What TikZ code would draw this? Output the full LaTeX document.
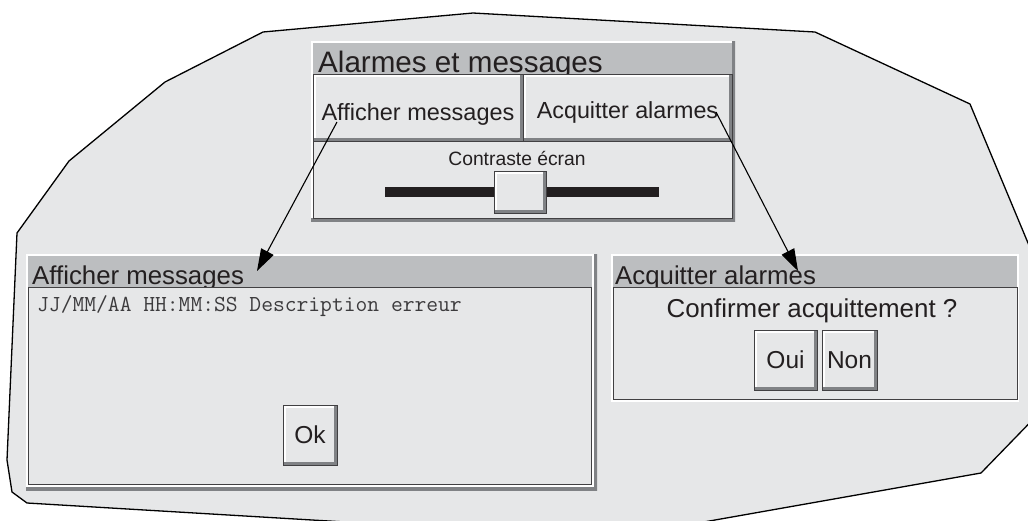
\documentclass[tikz,border=0pt]{standalone}
\usepackage{fontspec}
\setmainfont{Liberation Sans}
\usepackage{tikz}
\usetikzlibrary{
    arrows.meta,
    positioning,
    calc
}
\definecolor{uibg}{HTML}{E6E7E8}
\definecolor{uititle}{HTML}{BCBEC0}
\definecolor{uiline}{HTML}{414042}
\definecolor{uishade}{HTML}{808285}
\definecolor{uitext}{HTML}{231F20}
\definecolor{uimono}{HTML}{3C3B3D}
\tikzset{
    % Screen outline behind the windows
    screenarea/.style={
        fill=uibg,
        draw=black,
        line width=1.3pt,
        line join=round
    },
    % White window frame
    uiframe/.style={
        rectangle,
        anchor=north west,
        fill=white,
        inner sep=0pt,
        outer sep=0pt
    },
    % Drop shadow on bottom and right edge
    uishadow/.style={
        path picture={
            \draw[uishade, line width=7pt]
                (path picture bounding box.south west) --
                (path picture bounding box.south east) --
                (path picture bounding box.north east);
        }
    },
    % Grey title bar
    uititlebar/.style={
        rectangle,
        anchor=north west,
        fill=uititle,
        inner sep=0pt,
        outer sep=0pt
    },
    % Title text
    uititletext/.style={
        anchor=base west,
        inner sep=0pt,
        text=uitext,
        font=\fontsize{25.8}{28}\selectfont
    },
    % Flat panel
    uipanel/.style={
        rectangle,
        anchor=north west,
        fill=uibg,
        draw=uiline,
        line width=0.9pt,
        inner sep=0pt,
        outer sep=0pt,
        text=uitext
    },
    % Raised button
    uibutton/.style={
        uipanel,
        font=\fontsize{24.5}{26}\selectfont,
        text height=17pt,
        text depth=0pt,
        path picture={
            \draw[white, line width=5pt]
                (path picture bounding box.south west) --
                (path picture bounding box.north west) --
                (path picture bounding box.north east);
            \draw[uishade, line width=6pt]
                (path picture bounding box.south west) --
                (path picture bounding box.south east) --
                (path picture bounding box.north east);
        }
    },
    % Plain text line
    uilabel/.style={
        anchor=base,
        inner sep=0pt,
        text=uitext,
        font=\fontsize{25.9}{28}\selectfont
    },
    % Message line
    monotext/.style={
        anchor=base west,
        inner sep=0pt,
        text=uimono,
        font=\ttfamily\fontsize{22.9}{24}\selectfont
    },
    % Slider track
    sliderbar/.style={
        rectangle,
        anchor=north west,
        fill=uitext,
        inner sep=0pt,
        outer sep=0pt
    },
    % Arrow style
    uiarrow/.style={
        -{Triangle[length=22pt, width=14pt]},
        line width=1.1pt,
        color=black
    }
}

\begin{document}
\begin{tikzpicture}[x=1pt, y=-1pt]

    \useasboundingbox (0,0) rectangle (1028,520);

    % Screen outline
    \begin{scope}
        \clip (0,0) rectangle (1028,520);
        \draw[screenarea] (263,32) -- (473,13) -- (815,32) -- (970,104) -- (1081,370) -- (981,473) -- (715,520) -- (614,538) -- (27,503) -- (12,492) -- (7,460) -- (17,233) -- (69,161) -- (165,82) -- cycle;
    \end{scope}

    % Alarmes et messages window
    \node[uiframe, uishadow, minimum width=424pt, minimum height=180pt] (mainframe) at (311,41) {};
    \node[uititlebar, minimum width=419pt, minimum height=31pt] (maintitlebar) at (313,43) {};
    \node[uititletext, font=\fontsize{29.6}{31}\selectfont] (maintitle) at (318,72) {Alarmes et messages};
    \node[uipanel, minimum width=419pt, minimum height=144pt] (mainbody) at (313,74) {};

    % Menu buttons
    \node[uibutton, font=\fontsize{23.5}{25}\selectfont, minimum width=210pt, minimum height=67pt, text height=25pt] (msgbtn) at (313,74) {Afficher messages};
    \node[uibutton, font=\fontsize{23.3}{25}\selectfont, minimum width=209pt, minimum height=67pt, text height=22pt] (ackbtn) at (523,74) {Acquitter alarmes};

    % Contrast slider
    \node[uilabel, font=\fontsize{19.3}{21}\selectfont] (contrast) at (517,165) {Contraste écran};
    \node[sliderbar, minimum width=274pt, minimum height=10pt] (slider) at (385,187) {};
    \node[uibutton, minimum width=52pt, minimum height=42pt] (knob) at (494,171) {};

    % Afficher messages dialog
    \node[uiframe, uishadow, minimum width=571pt, minimum height=236pt] (msgframe) at (26,254) {};
    \node[uititlebar, minimum width=564pt, minimum height=31pt] (msgtitlebar) at (28,256) {};
    \node[uititletext] (msgtitle) at (32,284) {Afficher messages};
    \node[uipanel, minimum width=563pt, minimum height=197pt] (msgbody) at (28,287) {};
    \node[monotext] (msgline) at (37,311) {JJ/MM/AA HH:MM:SS Description erreur};
    \node[uibutton, minimum width=54pt, minimum height=60pt] (okbtn) at (283,405) {Ok};

    % Acquitter alarmes dialog
    \node[uiframe, minimum width=408pt, minimum height=148pt] (ackframe) at (611,254) {};
    \node[uititlebar, minimum width=404pt, minimum height=31pt] (acktitlebar) at (613,256) {};
    \node[uititletext] (acktitle) at (615,284) {Acquitter alarmes};
    \node[uipanel, minimum width=404pt, minimum height=112pt] (ackbody) at (613,287) {};
    \node[uilabel] (confirm) at (812,317) {Confirmer acquittement ?};
    \node[uibutton, minimum width=63pt, minimum height=60pt] (ouibtn) at (754,330) {Oui};
    \node[uibutton, minimum width=55pt, minimum height=60pt, right=5pt of ouibtn.north east, anchor=north west] (nonbtn) {Non};

    % Arrows from the menu buttons to their dialogs
    \draw[uiarrow] ($(msgbtn.north west)+(24,48)$) -- ($(msgtitlebar.north west)+(229,15)$);
    \draw[uiarrow] ($(ackbtn.north west)+(193,38)$) -- ($(acktitlebar.north west)+(185,15)$);

\end{tikzpicture}
\end{document}
